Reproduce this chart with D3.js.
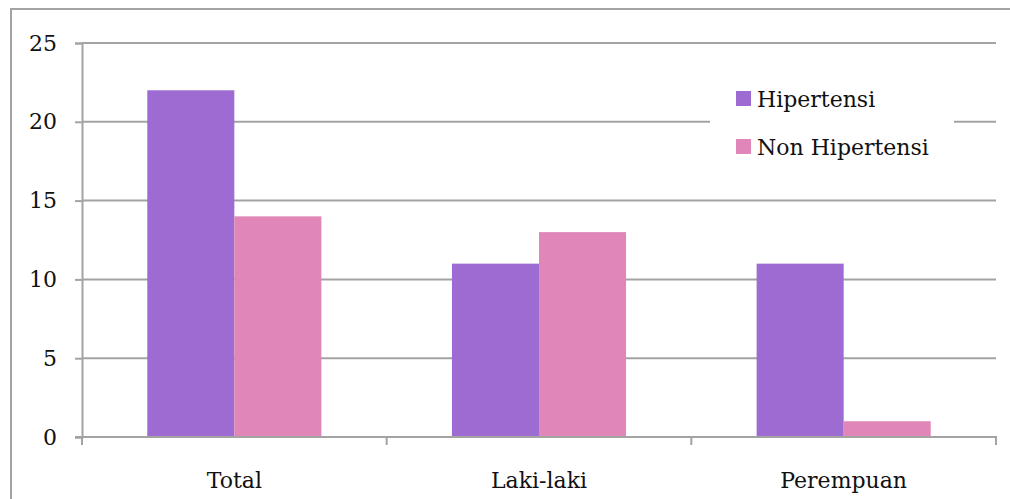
<!DOCTYPE html>
<html>
<head>
<meta charset="utf-8">
<script src="https://cdn.jsdelivr.net/npm/d3@7"></script>
<style>
  html, body { margin: 0; padding: 0; background: #fff; }
  svg { display: block; }
  text { font-family: "DejaVu Serif", serif; fill: #111; }
</style>
</head>
<body>
<svg id="chart" width="1010" height="499"></svg>
<script>
// Jumlah responden menurut status hipertensi
const categories = ["Total", "Laki-laki", "Perempuan"];
const seriesNames = ["Hipertensi", "Non Hipertensi"];
const hipertensi = [22, 11, 11];
const nonHipertensi = [14, 13, 1];
const yTicks = [0, 5, 10, 15, 20, 25];

const colors = ["#9D6BD1", "#E086B8"];
const gridColor = "#A3A3A3";

const svg = d3.select("#chart");
const margin = { left: 82, right: 14, top: 43, bottom: 62 };
const W = 1010, H = 499;
const plotW = W - margin.left - margin.right;
const plotH = H - margin.top - margin.bottom;

// outer frame
svg.append("path")
  .attr("d", `M11,${H + 2} V9 H${W + 2}`)
  .attr("fill", "none")
  .attr("stroke", gridColor)
  .attr("stroke-width", 2);

const g = svg.append("g").attr("transform", `translate(${margin.left},${margin.top})`);

const x0 = d3.scaleBand().domain(categories).range([0, plotW]).paddingInner(0).paddingOuter(0);
const x1 = d3.scaleBand().domain(seriesNames).range([0, x0.bandwidth()]).paddingInner(0).paddingOuter(0.75);
const y = d3.scaleLinear().domain([0, 25]).range([plotH, 0]);

// horizontal gridlines
g.append("g").selectAll("line").data(yTicks.filter(d => d > 0)).join("line")
  .attr("x1", 0).attr("x2", plotW)
  .attr("y1", d => y(d)).attr("y2", d => y(d))
  .attr("stroke", gridColor).attr("stroke-width", 2);

// y axis
const yAxis = g.append("g").call(d3.axisLeft(y).tickValues(yTicks).tickSize(7).tickPadding(18));
yAxis.select(".domain").attr("stroke", gridColor).attr("stroke-width", 2);
yAxis.selectAll(".tick line").attr("stroke", gridColor).attr("stroke-width", 2);
yAxis.selectAll(".tick text").attr("font-size", 22).attr("fill", "#111")
  .attr("font-family", "DejaVu Serif, serif");

// bars
const rows = categories.map((c, i) => ({ cat: c, vals: [hipertensi[i], nonHipertensi[i]] }));
const groups = g.append("g").selectAll("g").data(rows).join("g")
  .attr("transform", d => `translate(${x0(d.cat)},0)`);
groups.selectAll("rect").data(d => d.vals.map((v, j) => ({ name: seriesNames[j], v, j }))).join("rect")
  .attr("x", d => x1(d.name))
  .attr("width", x1.bandwidth())
  .attr("y", d => y(d.v))
  .attr("height", d => y(0) - y(d.v))
  .attr("fill", d => colors[d.j]);

// x axis with ticks at category boundaries
const xAxisG = g.append("g").attr("transform", `translate(0,${plotH})`);
xAxisG.append("line").attr("x1", -7).attr("x2", plotW + 1)
  .attr("stroke", gridColor).attr("stroke-width", 2);
const bounds = categories.map(c => x0(c)).concat([plotW]);
xAxisG.selectAll("line.tk").data(bounds).join("line").attr("class", "tk")
  .attr("x1", d => d).attr("x2", d => d).attr("y1", 0).attr("y2", 8)
  .attr("stroke", gridColor).attr("stroke-width", 2);
xAxisG.selectAll("text").data(categories).join("text")
  .attr("x", d => x0(d) + x0.bandwidth() / 2)
  .attr("y", 51)
  .attr("text-anchor", "middle")
  .attr("font-size", 22)
  .text(d => d);

// legend
const legend = svg.append("g");
legend.append("rect").attr("x", 710).attr("y", 70).attr("width", 244).attr("height", 100).attr("fill", "#fff");
const items = legend.selectAll("g").data(seriesNames).join("g")
  .attr("transform", (d, i) => `translate(736,${91 + i * 48})`);
items.append("rect").attr("width", 15).attr("height", 15).attr("fill", (d, i) => colors[i]);
items.append("text").attr("x", 21).attr("y", 16).attr("font-size", 22).text(d => d);
</script>
</body>
</html>
